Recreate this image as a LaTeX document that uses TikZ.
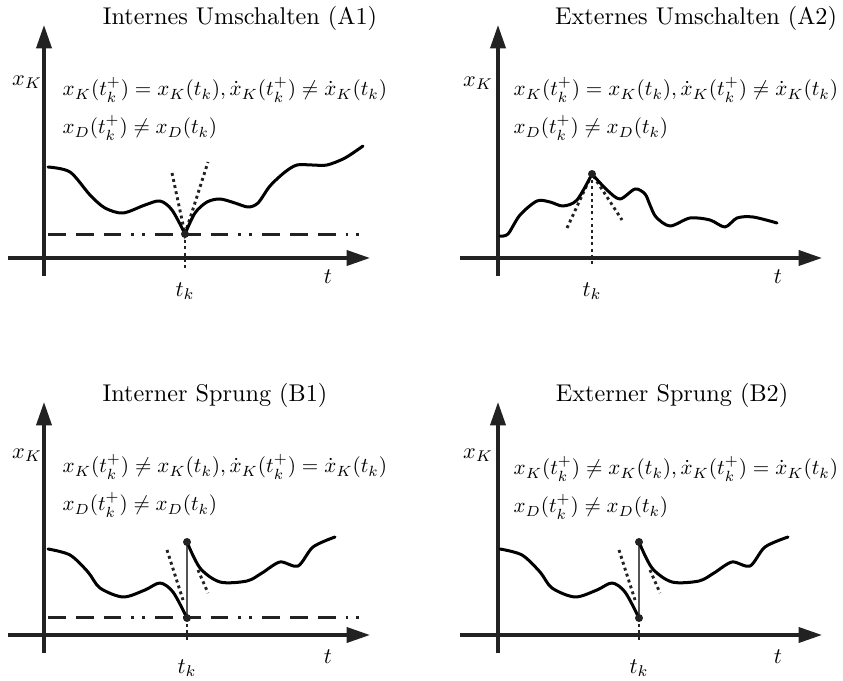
\documentclass[tikz,border=0pt]{standalone}
\usepackage{amsmath,amssymb}
\usepackage{graphicx}
\usepackage{xcolor}
\usepackage{tikz}
\usetikzlibrary{arrows.meta,positioning,calc}
\definecolor{ax}{HTML}{222222}
\definecolor{jmp}{HTML}{555555}
\tikzset{
  axis/.style  ={-{Triangle[length=10.5pt,width=6.8pt]}, line width=1.5pt, draw=ax},
  curve/.style ={line width=1.35pt, line join=round, line cap=round},
  tang/.style  ={line width=1.3pt, draw=ax, dash pattern=on 1.3pt off 1.5pt},
  guard/.style ={line width=1.35pt, draw=ax, dash pattern=on 8pt off 4.5pt on 8pt off 4.5pt on 8pt off 4.5pt on 1.3pt off 3.6pt on 1.3pt off 4.5pt},
  jump/.style  ={line width=0.7pt, draw=jmp},
  pt/.style    ={circle, fill=ax, inner sep=0pt, minimum size=8pt*0.45},
  lbl/.style   ={inner sep=1pt, font=\normalsize},
  title/.style ={inner sep=1pt, font=\fontsize{10.9}{13}\selectfont},
  eq/.style    ={inner sep=1pt, anchor=west},
}
\begin{document}
\begin{tikzpicture}[x=0.45pt,y=-0.45pt]
\useasboundingbox (0,0) rectangle (843,681);
% --- A1: Internes Umschalten ---
\node[title] (titA1) at (240,18) {Internes Umschalten (A1)};
\draw[axis] (44,276) -- (44,25);
\draw[axis] (8,258) -- (370,258);
\node[lbl] (xkA1) at (27,82) {$x_K$};
\node[eq] (eqA1a) at (60,90) {\resizebox{146pt}{!}{$x_K(t_k^+) = x_K(t_k), \dot x_K(t_k^+) \neq \dot x_K(t_k)$}};
\node[eq] (eqA1b) at (60,128) {\resizebox{69.5pt}{!}{$x_D(t_k^+) \neq x_D(t_k)$}};
\node[lbl] (tA1) at (328,277) {$t$};
\node[lbl] (tkA1) at (185,291) {$t_k$};
\coordinate (pA1) at (185,234);
\draw[guard] (48,235) -- (360,235);
\draw[tang] (172,173) -- (pA1) -- (208,162);
\draw[tang] (pA1) -- (185,268);
\draw[curve] plot[smooth] coordinates {(48,167) (70,172) (90,195) (105,208) (123,213) (145,205) (160,201) (172,210) (185,234)};
\draw[curve] plot[smooth] coordinates {(185,234) (195,213) (207,202) (220,199) (235,203) (248,207) (258,203) (270,186) (285,172) (297,165) (312,165) (327,165) (345,158) (363,146)};
\node[pt] (dA1) at (pA1) {};
% --- A2: Externes Umschalten ---
\node[title] (titA2) at (696,18) {Externes Umschalten (A2)};
\draw[axis] (498,276) -- (498,25);
\draw[axis] (460,258) -- (822,258);
\node[lbl] (xkA2) at (478,83) {$x_K$};
\node[eq] (eqA2a) at (511,90) {\resizebox{146pt}{!}{$x_K(t_k^+) = x_K(t_k), \dot x_K(t_k^+) \neq \dot x_K(t_k)$}};
\node[eq] (eqA2b) at (511,128) {\resizebox{69.5pt}{!}{$x_D(t_k^+) \neq x_D(t_k)$}};
\node[lbl] (tA2) at (778,277) {$t$};
\node[lbl] (tkA2) at (592,291) {$t_k$};
\coordinate (pA2) at (592,174);
\draw[tang] (567,228) -- (pA2) -- (622,220);
\draw[tang] (pA2) -- (592,265);
\draw[curve] plot[smooth] coordinates {(500,236) (508,234) (520,215) (537,201) (550,202) (563,206) (577,200) (592,174)};
\draw[curve] plot[smooth] coordinates {(592,174) (607,190) (620,199) (635,189) (645,194) (650,205) (656,217) (670,226) (690,218) (710,220) (725,227) (737,218) (753,217) (777,223)};
\node[pt] (dA2) at (pA2) {};
% --- B1: Interner Sprung ---
\node[title] (titB1) at (215,395) {Interner Sprung (B1)};
\draw[axis] (44,653) -- (44,402);
\draw[axis] (8,635) -- (370,635);
\node[lbl] (xkB1) at (27,455) {$x_K$};
\node[eq] (eqB1a) at (60,467) {\resizebox{146pt}{!}{$x_K(t_k^+) \neq x_K(t_k), \dot x_K(t_k^+) = \dot x_K(t_k)$}};
\node[eq] (eqB1b) at (60,505) {\resizebox{69.5pt}{!}{$x_D(t_k^+) \neq x_D(t_k)$}};
\node[lbl] (tB1) at (328,657) {$t$};
\node[lbl] (tkB1) at (187,668) {$t_k$};
\coordinate (loB1) at (187,618);
\coordinate (upB1) at (187,542);
\draw[guard] (48,617) -- (360,617);
\draw[tang] (167,550) -- (183,600);
\draw[tang] (198,570) -- (208,593);
\draw[tang] (loB1) -- (187,642);
\draw[jump] (loB1) -- (upB1);
\draw[curve] plot[smooth] coordinates {(48,549) (70,555) (88,572) (100,588) (123,597) (145,590) (160,583) (173,592) (187,618)};
\draw[curve] plot[smooth] coordinates {(187,542) (200,568) (220,582) (247,581) (262,573) (280,562) (298,566) (313,547) (335,537)};
\node[pt] (lB1) at (loB1) {};
\node[pt] (uB1) at (upB1) {};
% --- B2: Externer Sprung ---
\node[title] (titB2) at (672,395) {Externer Sprung (B2)};
\draw[axis] (498,653) -- (498,402);
\draw[axis] (460,635) -- (822,635);
\node[lbl] (xkB2) at (478,455) {$x_K$};
\node[eq] (eqB2a) at (511,469) {\resizebox{146pt}{!}{$x_K(t_k^+) \neq x_K(t_k), \dot x_K(t_k^+) = \dot x_K(t_k)$}};
\node[eq] (eqB2b) at (511,507) {\resizebox{69.5pt}{!}{$x_D(t_k^+) \neq x_D(t_k)$}};
\node[lbl] (tB2) at (778,657) {$t$};
\node[lbl] (tkB2) at (639,668) {$t_k$};
\coordinate (loB2) at (639,618);
\coordinate (upB2) at (639,542);
\draw[tang] (619,550) -- (635,600);
\draw[tang] (650,570) -- (660,593);
\draw[tang] (loB2) -- (639,642);
\draw[jump] (loB2) -- (upB2);
\draw[curve] plot[smooth] coordinates {(500,549) (522,555) (540,572) (552,588) (575,597) (597,590) (612,583) (625,592) (639,618)};
\draw[curve] plot[smooth] coordinates {(639,542) (652,568) (672,582) (699,581) (714,573) (732,562) (750,566) (765,547) (788,537)};
\node[pt] (lB2) at (loB2) {};
\node[pt] (uB2) at (upB2) {};
\end{tikzpicture}
\end{document}
